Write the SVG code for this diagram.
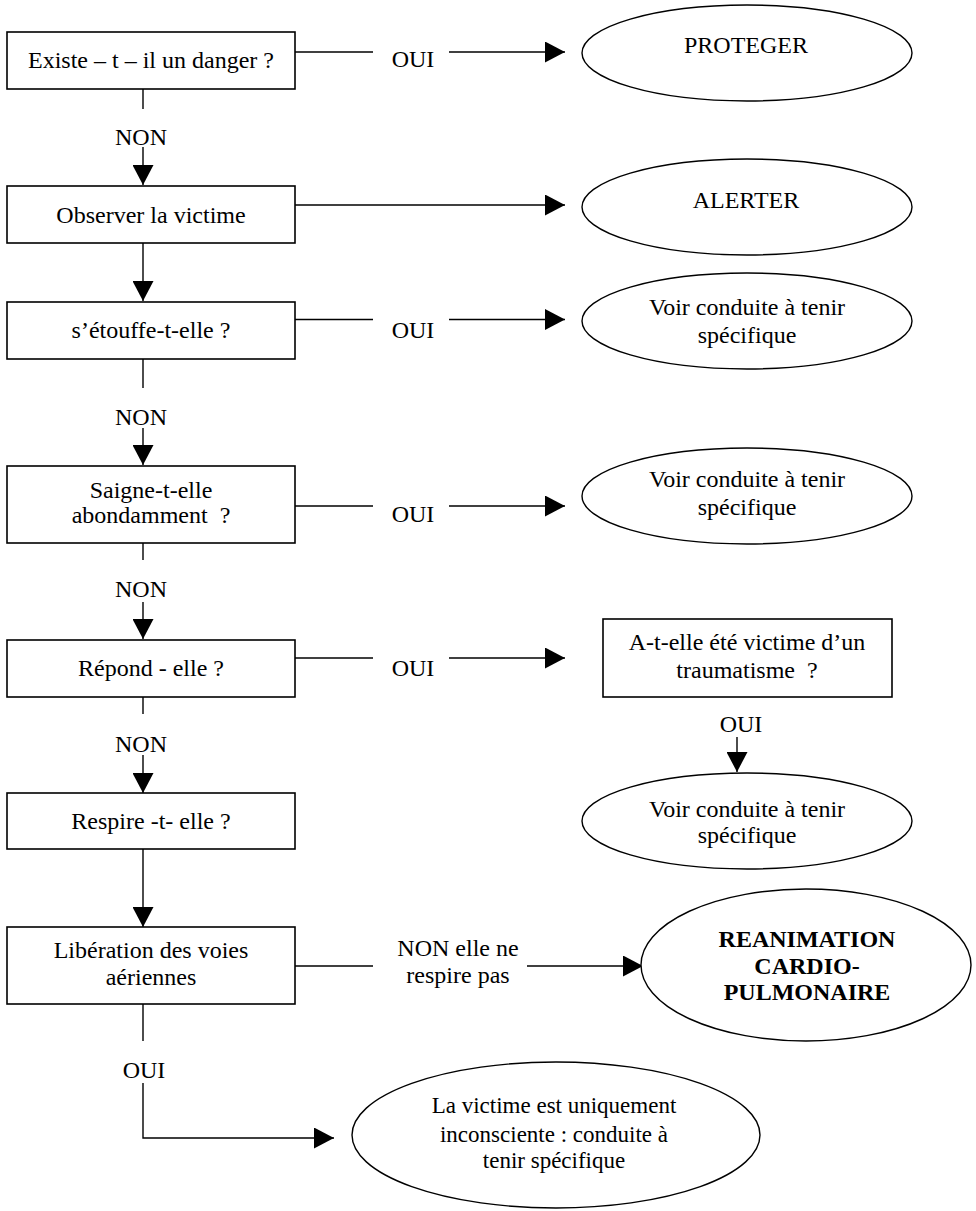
<svg xmlns="http://www.w3.org/2000/svg" width="976" height="1211" viewBox="0 0 976 1211">
<style>
  .box{fill:#fff;stroke:#000;stroke-width:1.6}
  .ell{fill:#fff;stroke:#000;stroke-width:1.4}
  .t{font-family:"Liberation Serif","Times New Roman",serif;font-size:24px;fill:#000;text-anchor:middle}
  .b{font-weight:bold}
  .c{fill:none;stroke:#000;stroke-width:1.4}
</style>
<defs>
  <marker id="ah" markerUnits="userSpaceOnUse" markerWidth="20" markerHeight="21" refX="20" refY="10.5" orient="auto">
    <path d="M0,0 L20,10.5 L0,21 z" fill="#000"/>
  </marker>
</defs>
<rect width="976" height="1211" fill="#fff"/>

<g id="connectors" font-family="Liberation Serif, serif">
  <line class="c" x1="143" y1="89" x2="143" y2="109"/>
  <line class="c" x1="143" y1="147" x2="143" y2="185" marker-end="url(#ah)"/>
  <line class="c" x1="143" y1="243" x2="143" y2="301" marker-end="url(#ah)"/>
  <line class="c" x1="143" y1="359" x2="143" y2="388"/>
  <line class="c" x1="143" y1="428" x2="143" y2="465" marker-end="url(#ah)"/>
  <line class="c" x1="143" y1="543" x2="143" y2="560"/>
  <line class="c" x1="143" y1="602" x2="143" y2="639" marker-end="url(#ah)"/>
  <line class="c" x1="143" y1="697" x2="143" y2="714"/>
  <line class="c" x1="143" y1="755" x2="143" y2="793" marker-end="url(#ah)"/>
  <line class="c" x1="143" y1="849" x2="143" y2="927" marker-end="url(#ah)"/>
  <line class="c" x1="143" y1="1004" x2="143" y2="1041"/>
  <polyline class="c" points="143,1083 143,1138 334,1138" marker-end="url(#ah)"/>
  <line class="c" x1="295" y1="52" x2="373" y2="52"/>
  <line class="c" x1="449" y1="52" x2="565" y2="52" marker-end="url(#ah)"/>
  <line class="c" x1="295" y1="205" x2="565" y2="205" marker-end="url(#ah)"/>
  <line class="c" x1="295" y1="319.5" x2="373" y2="319.5"/>
  <line class="c" x1="449" y1="319.5" x2="565" y2="319.5" marker-end="url(#ah)"/>
  <line class="c" x1="295" y1="506" x2="373" y2="506"/>
  <line class="c" x1="449" y1="506" x2="565" y2="506" marker-end="url(#ah)"/>
  <line class="c" x1="295" y1="658" x2="373" y2="658"/>
  <line class="c" x1="449" y1="658" x2="565" y2="658" marker-end="url(#ah)"/>
  <line class="c" x1="737" y1="737" x2="737" y2="772" marker-end="url(#ah)"/>
  <line class="c" x1="295" y1="966" x2="373" y2="966"/>
  <line class="c" x1="527" y1="966" x2="643" y2="966" marker-end="url(#ah)"/>
  <text class="t" x="141" y="145">NON</text>
  <text class="t" x="141" y="425">NON</text>
  <text class="t" x="141" y="597">NON</text>
  <text class="t" x="141" y="752">NON</text>
  <text class="t" x="144" y="1078">OUI</text>
  <text class="t" x="413" y="67">OUI</text>
  <text class="t" x="413" y="338">OUI</text>
  <text class="t" x="413" y="522">OUI</text>
  <text class="t" x="413" y="676">OUI</text>
  <text class="t" x="741" y="732">OUI</text>
  <text class="t" x="458" y="956">NON elle ne</text>
  <text class="t" x="458" y="983">respire pas</text>
</g>

<g id="n-danger">
  <rect class="box" x="7" y="32" width="288" height="57"/>
  <text class="t" x="151" y="68">Existe – t – il un danger ?</text>
</g>
<g id="n-observer">
  <rect class="box" x="7" y="186" width="288" height="57"/>
  <text class="t" x="151" y="223">Observer la victime</text>
</g>
<g id="n-etouffe">
  <rect class="box" x="7" y="302" width="288" height="57"/>
  <text class="t" x="151" y="338">s’étouffe-t-elle ?</text>
</g>
<g id="n-saigne">
  <rect class="box" x="7" y="466" width="288" height="77"/>
  <text class="t" x="151" y="498">Saigne-t-elle</text>
  <text class="t" x="151" y="523" xml:space="preserve">abondamment  ?</text>
</g>
<g id="n-repond">
  <rect class="box" x="7" y="640" width="288" height="57"/>
  <text class="t" x="151" y="676">Répond - elle ?</text>
</g>
<g id="n-respire">
  <rect class="box" x="7" y="793" width="288" height="56"/>
  <text class="t" x="151" y="829">Respire -t- elle ?</text>
</g>
<g id="n-liberation">
  <rect class="box" x="7" y="927" width="288" height="77"/>
  <text class="t" x="151" y="958">Libération des voies</text>
  <text class="t" x="151" y="985">aériennes</text>
</g>
<g id="n-proteger">
  <ellipse class="ell" cx="747" cy="53" rx="165" ry="48"/>
  <text class="t" x="746" y="53">PROTEGER</text>
</g>
<g id="n-alerter">
  <ellipse class="ell" cx="747" cy="207" rx="165" ry="48"/>
  <text class="t" x="746" y="208">ALERTER</text>
</g>
<g id="n-cat1">
  <ellipse class="ell" cx="747" cy="321" rx="165" ry="48"/>
  <text class="t" x="747" y="315">Voir conduite à tenir</text>
  <text class="t" x="747" y="343">spécifique</text>
</g>
<g id="n-cat2">
  <ellipse class="ell" cx="747" cy="496" rx="165" ry="48"/>
  <text class="t" x="747" y="487">Voir conduite à tenir</text>
  <text class="t" x="747" y="515">spécifique</text>
</g>
<g id="n-trauma">
  <rect class="box" x="603" y="619" width="289" height="78"/>
  <text class="t" x="747" y="650">A-t-elle été victime d’un</text>
  <text class="t" x="747" y="678" xml:space="preserve">traumatisme  ?</text>
</g>
<g id="n-cat3">
  <ellipse class="ell" cx="747" cy="821" rx="165" ry="48"/>
  <text class="t" x="747" y="817">Voir conduite à tenir</text>
  <text class="t" x="747" y="843">spécifique</text>
</g>
<g id="n-rcp">
  <ellipse class="ell" cx="806" cy="965" rx="165" ry="76"/>
  <text class="t b" x="807" y="947">REANIMATION</text>
  <text class="t b" x="807" y="974">CARDIO-</text>
  <text class="t b" x="807" y="1000">PULMONAIRE</text>
</g>
<g id="n-inconsciente">
  <ellipse class="ell" cx="556" cy="1135" rx="204" ry="73"/>
  <text class="t" x="554" y="1113" style="font-size:23px">La victime est uniquement</text>
  <text class="t" x="554" y="1142" style="font-size:23px">inconsciente : conduite à</text>
  <text class="t" x="554" y="1168" style="font-size:23px">tenir spécifique</text>
</g>
</svg>
